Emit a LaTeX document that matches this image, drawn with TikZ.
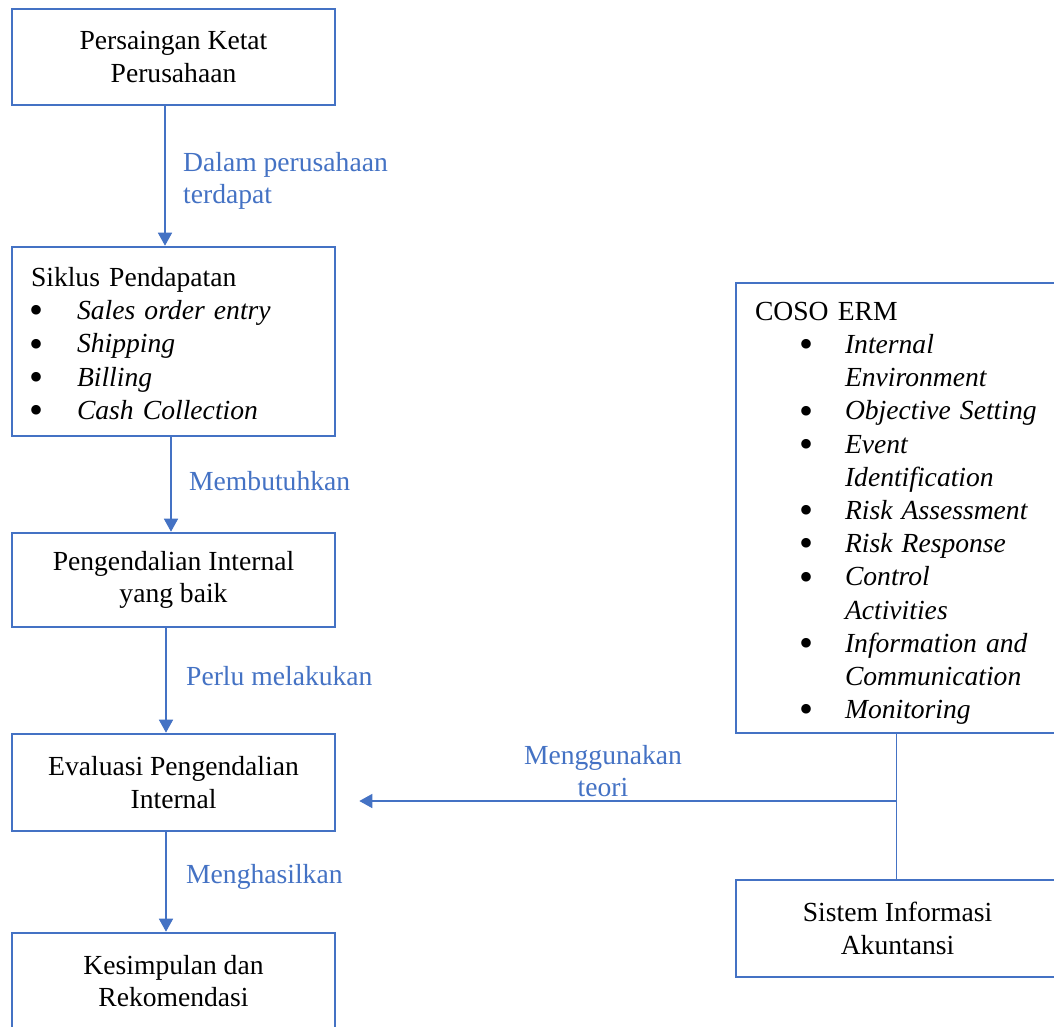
\documentclass[tikz,border=0pt]{standalone}
\usepackage{fontspec}
\setmainfont{Liberation Serif}
\usetikzlibrary{arrows.meta,calc}
\definecolor{wblue}{HTML}{4472C4}
\newcommand\bigbul{\smash{\raisebox{-4.2pt}{\scalebox{1.45}{\textbullet}}}}
\newcommand\blt[3]{\hspace*{#1}\makebox[0pt][c]{\bigbul}\hspace*{\dimexpr#2-#1\relax}\textit{#3}}
\newcommand\cont[2]{\hspace*{#1}\textit{#2}}
\begin{document}
\begin{tikzpicture}[x=1pt,y=-1pt,
  box/.style={draw=wblue,line width=2.6pt,minimum width=323pt,inner sep=0pt,font=\fontsize{27.6pt}{32.5pt}\selectfont,align=center},
  listbox/.style={box,text width=285pt,align=left,font=\fontsize{27.6pt}{33.2pt}\selectfont},
  lbl/.style={text=wblue,inner sep=0pt,font=\fontsize{27.6pt}{32pt}\selectfont,align=left},
  arr/.style={draw=wblue,line width=1.5pt,-{Triangle[width=14pt,length=13pt]}},
  ln/.style={draw=wblue,line width=1.5pt}]
\useasboundingbox (0,0) rectangle (1054,1026);
\clip (0,0) rectangle (1054,1026);
\fill[white] (0,0) rectangle (1054,1026);
% left column
\node[box,minimum height=96pt] (b1) at (173.5,57) {Persaingan Ketat\\Perusahaan};
\node[listbox,minimum height=189pt] (b2) at (173.5,341.5)
  {\rule{0pt}{23pt}Siklus Pendapatan\\
   \blt{6pt}{46pt}{Sales order entry}\\
   \blt{6pt}{46pt}{Shipping}\\
   \blt{6pt}{46pt}{Billing}\\
   \blt{6pt}{46pt}{Cash Collection}};
\node[box,minimum height=94pt] (b3) at (173.5,580) {Pengendalian Internal\\yang baik};
\node[box,minimum height=97pt] (b4) at (173.5,782.5) {Evaluasi Pengendalian\\Internal};
\node[box,minimum height=96pt] (b5) at (173.5,981) {Kesimpulan dan\\Rekomendasi};
% right column
\node[listbox,minimum height=450pt] (coso) at (897.5,508)
  {\rule{0pt}{29pt}COSO ERM\\
   \blt{51pt}{90pt}{Internal}\\
   \cont{90pt}{Environment}\\
   \blt{51pt}{90pt}{Objective Setting}\\
   \blt{51pt}{90pt}{Event}\\
   \cont{90pt}{Identification}\\
   \blt{51pt}{90pt}{Risk Assessment}\\
   \blt{51pt}{90pt}{Risk Response}\\
   \blt{51pt}{90pt}{Control}\\
   \cont{90pt}{Activities}\\
   \blt{51pt}{90pt}{Information and}\\
   \cont{90pt}{Communication}\\
   \blt{51pt}{90pt}{Monitoring}};
\node[box,minimum height=97pt] (sia) at (897.5,928.5) {Sistem Informasi\\Akuntansi};
% connectors
\draw[arr] ([xshift=-8.5pt]b1.south) -- ([xshift=-8.5pt]b2.north);
\draw[arr] ([xshift=-2.5pt]b2.south) -- ([xshift=-2.5pt]b3.north);
\draw[arr] ([xshift=-7.5pt]b3.south) -- ([xshift=-7.5pt]b4.north);
\draw[arr] ([xshift=-7.5pt]b4.south) -- ([xshift=-7.5pt]b5.north);
\draw[ln] ([xshift=-1pt]coso.south) -- ([xshift=-1pt]sia.north);
\coordinate (j) at (896.5,801);
\draw[arr] (j) -- ($(b4.east |- j)+(23,0)$);
% labels
\node[lbl,anchor=west] (l1) at (183,181) {Dalam perusahaan\\terdapat};
\node[lbl,anchor=west] (l2) at (189,481) {Membutuhkan};
\node[lbl,anchor=west] (l3) at (186,676) {Perlu melakukan};
\node[lbl,anchor=west] (l4) at (186,877) {Menghasilkan};
\node[lbl,align=center] (l5) at (603,771) {Menggunakan\\teori};
\end{tikzpicture}
\end{document}
